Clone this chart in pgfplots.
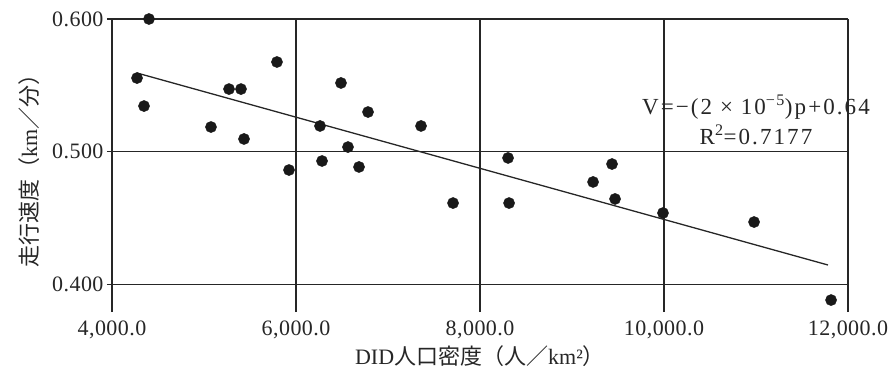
\documentclass[border=0pt]{standalone}
\usepackage{fontspec}
\setmainfont{Liberation Serif}
\newfontfamily\cjk{Noto Sans CJK JP}
\usepackage{pgfplots}
\pgfplotsset{compat=1.18}
\begin{document}
\begin{tikzpicture}
\begin{axis}[
 scale only axis, width=736pt, height=293pt,
 xmin=4000, xmax=12000, ymin=0.3792, ymax=0.6,
 axis line style={draw=none},
 xtick={4000,6000,8000,10000,12000},
 ytick={0.4,0.5,0.6},
 grid=major,
 grid style={draw=black!85, line width=1.3pt},
 xtick style={draw=none},
 ytick style={draw=black!85, line width=1.3pt},
 tick align=outside, major tick length=5pt,
 xtick pos=bottom, ytick pos=left,
 scaled x ticks=false, scaled y ticks=false,
 x tick label style={/pgf/number format/.cd, fixed, fixed zerofill, precision=1, 1000 sep={,}, assume math mode=true},
 y tick label style={/pgf/number format/.cd, fixed, fixed zerofill, precision=3, assume math mode=true},
 ticklabel style={font=\fontsize{22}{26}\selectfont\addfontfeature{LetterSpace=2}, text=black!85},
 xlabel={DID{\cjk 人口密度（人／}km²{\cjk ）}},
 ylabel={{\cjk 走行速度（}km{\cjk ／分）}},
 ylabel style={yshift=6pt},
 label style={font=\fontsize{22}{26}\selectfont, text=black!85},
 clip=false,
]
\addplot[only marks, mark=*, mark size=5.6pt, mark options={fill=black!90, draw=black!90}] coordinates {
(4402,0.600) (4272,0.5555) (4348,0.5344) (5076,0.5186) (5272,0.5472)
(5402,0.5472) (5435,0.5096) (5793,0.5676) (5924,0.4862) (6261,0.5194)
(6283,0.4930) (6489,0.5518) (6565,0.5035) (6685,0.4885) (6783,0.5299)
(7359,0.5194) (7707,0.4613) (8305,0.4953) (8316,0.4613) (9229,0.4772)
(9435,0.4907) (9468,0.4644) (9989,0.4538) (10979,0.4470) (11816,0.3882)
};
\addplot[black!85, line width=1.3pt] coordinates {(4272,0.5593) (11783,0.4146)};
\node[font=\fontsize{23}{30}\selectfont\addfontfeature{LetterSpace=9}, align=center, text=black!85] at (axis cs:11000,0.524) {V=−(2 × 10\textsuperscript{−5})p+0.64\\R\textsuperscript{2}=0.7177};
\end{axis}
\pgfresetboundingbox
\path ([shift={(-112pt,-77pt)}]current axis.south west) rectangle ([shift={(40pt,19pt)}]current axis.north east);
\end{tikzpicture}
\end{document}
